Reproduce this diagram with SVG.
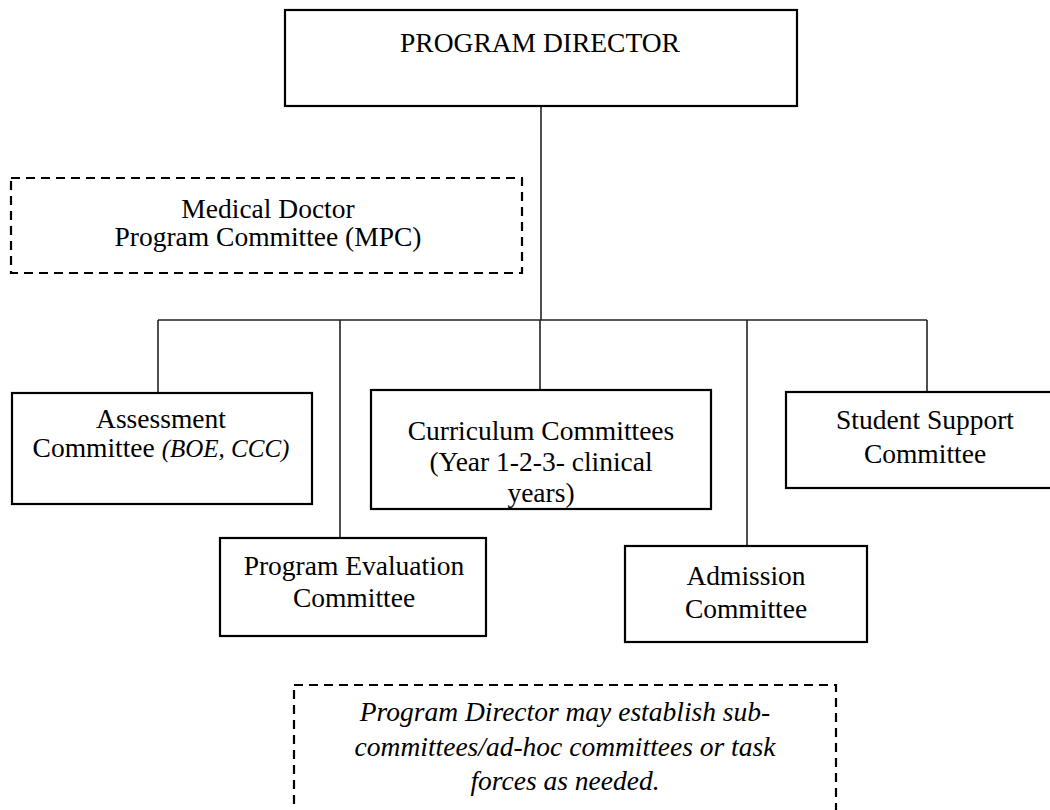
<svg xmlns="http://www.w3.org/2000/svg" width="1050" height="810" viewBox="0 0 1050 810">
<style>
.box{fill:#fff;stroke:#000;stroke-width:2.2}
.dash{fill:none;stroke:#000;stroke-width:2.2;stroke-dasharray:9 6}
.t{font-family:"Liberation Serif","Times New Roman",serif;font-size:27.5px;fill:#000;text-anchor:middle}
.i{font-style:italic}
.c{stroke:#222;stroke-width:1.6;fill:none}
</style>
<rect width="1050" height="810" fill="#fff"/>
<g id="connectors">
<line class="c" x1="541" y1="106" x2="541" y2="320"/>
<line class="c" x1="158" y1="320" x2="927" y2="320"/>
<line class="c" x1="158" y1="320" x2="158" y2="392"/>
<line class="c" x1="340" y1="320" x2="340" y2="538"/>
<line class="c" x1="540" y1="320" x2="540" y2="390"/>
<line class="c" x1="747" y1="320" x2="747" y2="545"/>
<line class="c" x1="927" y1="320" x2="927" y2="392"/>
</g>
<g id="program-director">
<rect class="box" x="285" y="10" width="512" height="96"/>
<text class="t" x="540" y="52">PROGRAM DIRECTOR</text>
</g>
<g id="mpc">
<rect class="dash" x="11" y="178" width="511" height="95"/>
<text class="t" x="268" y="218">Medical Doctor</text>
<text class="t" x="268" y="246">Program Committee (MPC)</text>
</g>
<g id="assessment">
<rect class="box" x="12" y="393" width="300" height="111"/>
<text class="t" x="161" y="428">Assessment</text>
<text class="t" x="161" y="457">Committee <tspan class="i" font-size="25">(BOE, CCC)</tspan></text>
</g>
<g id="curriculum">
<rect class="box" x="371" y="390" width="340" height="119"/>
<text class="t" x="541" y="440">Curriculum Committees</text>
<text class="t" x="541" y="471">(Year 1-2-3- clinical</text>
<text class="t" x="541" y="502">years)</text>
</g>
<g id="student-support">
<rect class="box" x="786" y="392" width="268" height="96"/>
<text class="t" x="925" y="429">Student Support</text>
<text class="t" x="925" y="463">Committee</text>
</g>
<g id="program-evaluation">
<rect class="box" x="220" y="538" width="266" height="98"/>
<text class="t" x="354" y="575">Program Evaluation</text>
<text class="t" x="354" y="607">Committee</text>
</g>
<g id="admission">
<rect class="box" x="625" y="546" width="242" height="96"/>
<text class="t" x="746" y="585">Admission</text>
<text class="t" x="746" y="618">Committee</text>
</g>
<g id="note">
<rect class="dash" x="294" y="685" width="542" height="140"/>
<text class="t i" x="565" y="721">Program Director may establish sub-</text>
<text class="t i" x="565" y="756">committees/ad-hoc committees or task</text>
<text class="t i" x="565" y="790">forces as needed.</text>
</g>
</svg>
